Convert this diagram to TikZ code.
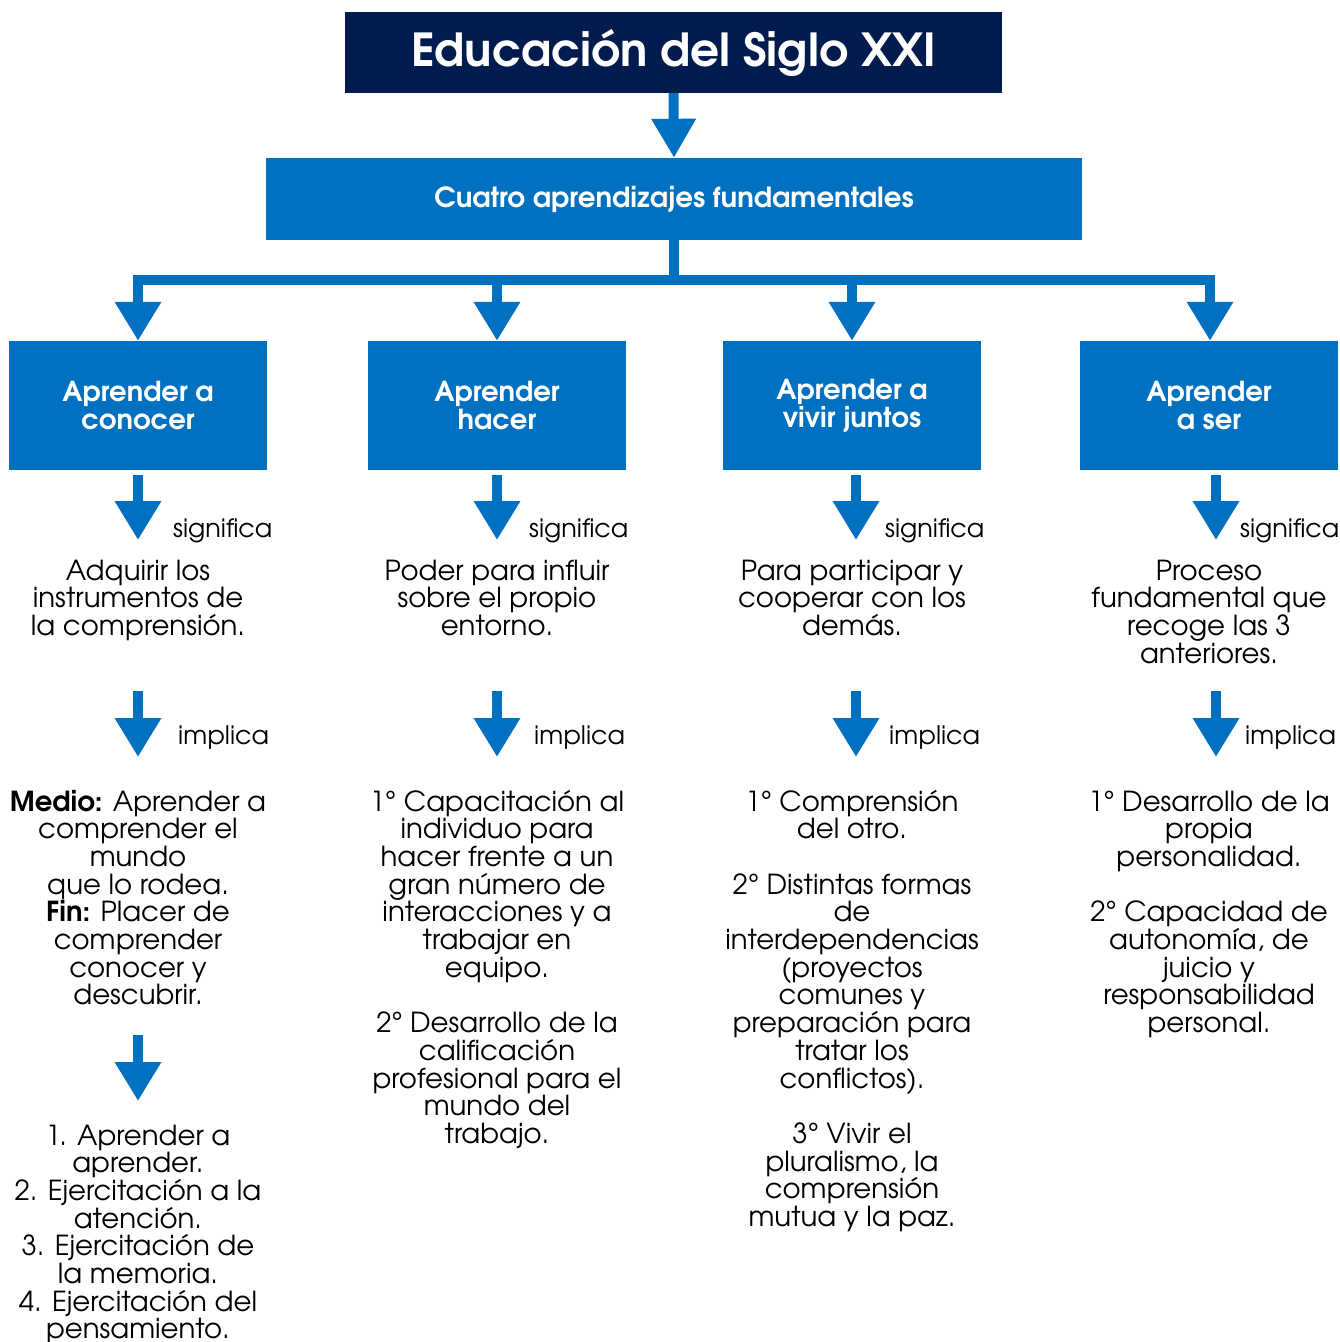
\documentclass[tikz,border=0pt]{standalone}
\usepackage{fontspec}
\setmainfont{texgyreadventor}[Extension=.otf, UprightFont=*-regular, BoldFont=*-bold, ItalicFont=*-italic, BoldItalicFont=*-bolditalic]
\usetikzlibrary{arrows.meta}
\definecolor{navy}{RGB}{0,28,78}
\definecolor{mblue}{RGB}{0,112,192}
\tikzset{
  arr/.style={draw=mblue, line width=10pt, line join=miter, -{Triangle[width=44pt,length=39pt]}},
  box/.style={fill=mblue, text=white, font=\bfseries\fontsize{27.5}{28}\selectfont, align=center, inner sep=0pt, minimum width=258pt, minimum height=129pt},
  body/.style={font=\fontsize{27.6}{27.7}\selectfont, align=center, anchor=base, inner sep=0pt},
  lab/.style={font=\fontsize{25.5}{26}\selectfont, anchor=base west, inner sep=0pt},
}
\begin{document}
\begin{tikzpicture}[x=1pt,y=-1pt]
\useasboundingbox (0,0) rectangle (1340,1342);
% title and main box
\node[fill=navy, text=white, font=\bfseries\fontsize{45.5}{48}\selectfont, minimum width=657pt, minimum height=81pt, inner sep=0pt] (title) at (673.5,52.5) {Educación del Siglo XXI};
\node[fill=mblue, text=white, font=\bfseries\fontsize{27.7}{28}\selectfont, minimum width=816pt, minimum height=82pt, inner sep=0pt] (cf) at (674,199) {Cuatro aprendizajes fundamentales};
\draw[arr, -{Triangle[width=42pt,length=39pt]}] (title.south) -- (cf.north);
% four boxes
\node[box] (b1) at (138,405.5) {Aprender a\\conocer};
\node[box] (b2) at (497,405.5) {Aprender\\hacer};
\node[box] (b3) at (852,405.5) {Aprender a\\vivir juntos};
\node[box] (b4) at (1209,405.5) {Aprender\\a ser};
\coordinate (hub) at (674,280);
\foreach \b/\x in {b1/138,b2/497,b3/852,b4/1210} {
  \draw[arr] (cf.south) -- (hub) -| ([xshift=\x-\x]\b.north -| \x,0);
}
% significa / implica arrows and labels
\foreach \b/\x/\sx/\ix in {b1/138/173/178,b2/497/529/534,b3/856/885/889,b4/1216/1240/1245} {
  \coordinate (\b s) at (\x,540);
  \draw[arr, shorten <=5pt] (\b.south -| \b s) -- (\b s);
  \node[lab] (\b sl) at (\sx,537) {significa};
  \coordinate (\b ia) at (\x,691);
  \coordinate (\b ib) at (\x,757);
  \draw[arr] (\b ia) -- (\b ib);
  \node[lab] (\b il) at (\ix,744) {implica};
}
% second level texts (anchor=base is the last line)
\node[body] (t1) at (138,635.4) {Adquirir los\\instrumentos de\\la comprensión.};
\node[body] (t2) at (497,635.4) {Poder para influir\\sobre el propio\\entorno.};
\node[body] (t3) at (852,635.4) {Para participar y\\cooperar con los\\demás.};
\node[body] (t4) at (1209,663.1) {Proceso\\fundamental que\\recoge las 3\\anteriores.};
% third level
\node[body] (u1) at (138,1004.9) {\textbf{Medio:} Aprender a\\comprender el\\mundo\\que lo rodea.\\\textbf{Fin:} Placer de\\comprender\\conocer y\\descubrir.};
\node[body] (u2) at (497,1143.4) {1° Capacitación al\\individuo para\\hacer frente a un\\gran número de\\interacciones y a\\trabajar en\\equipo.\\[27.7pt]2° Desarrollo de la\\calificación\\profesional para el\\mundo del\\trabajo.};
\node[body] (u3) at (852,1226.5) {1° Comprensión\\del otro.\\[27.7pt]2° Distintas formas\\de\\interdependencias\\(proyectos\\comunes y\\preparación para\\tratar los\\conflictos).\\[27.7pt]3° Vivir el\\pluralismo, la\\comprensión\\mutua y la paz.};
\node[body] (u4) at (1209,1032.6) {1° Desarrollo de la\\propia\\personalidad.\\[27.7pt]2° Capacidad de\\autonomía, de\\juicio y\\responsabilidad\\personal.};
% fourth level column 1
\coordinate (c1a) at (138,1035);
\coordinate (c1b) at (138,1101);
\draw[arr] (c1a) -- (c1b);
\node[body] (v1) at (138,1338.9) {1. Aprender a\\aprender.\\2. Ejercitación a la\\atención.\\3. Ejercitación de\\la memoria.\\4. Ejercitación del\\pensamiento.};
\end{tikzpicture}
\end{document}
